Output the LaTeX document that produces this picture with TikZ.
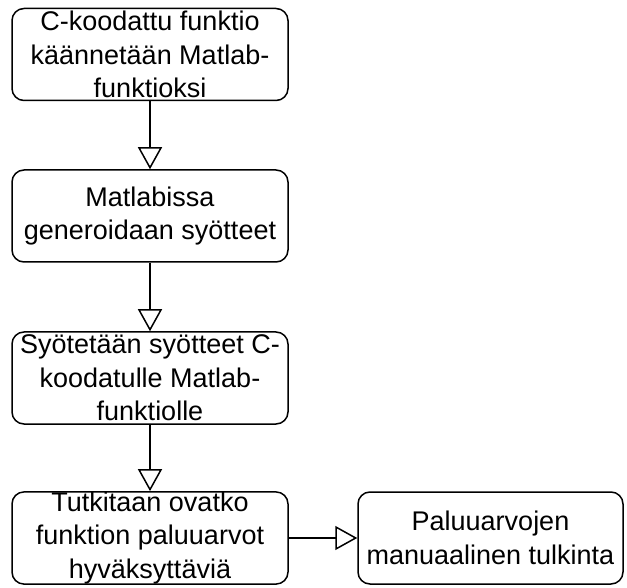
\documentclass[tikz,border=0pt]{standalone}
\usepackage{fontspec}
\setmainfont{Liberation Sans}
\usetikzlibrary{arrows.meta}
\begin{document}
\begin{tikzpicture}[x=1pt,y=-1pt,
  box/.style={draw, line width=1.5pt, rounded corners=12pt, minimum width=276pt, minimum height=92pt, inner sep=0pt, align=center, font=\fontsize{27}{33.5}\selectfont},
  flow/.style={line width=1.5pt, -{Triangle[open, length=22pt, width=24pt, line width=1.5pt]}}]
\useasboundingbox (0,0) rectangle (627,588);
\node[box] (a) at (150,54.5) {C-koodattu funktio\\käännetään Matlab-\\funktioksi};
\node[box] (b) at (150,216) {Matlabissa\\generoidaan syötteet};
\node[box] (c) at (150,378) {Syötetään syötteet C-\\koodatulle Matlab-\\funktiolle};
\node[box] (d) at (150,538) {Tutkitaan ovatko\\funktion paluuarvot\\hyväksyttäviä};
\node[box, minimum width=265pt] (e) at (490.5,538) {Paluuarvojen\\manuaalinen tulkinta};
\draw[flow] (a) -- (b);
\draw[flow] (b) -- (c);
\draw[flow] (c) -- (d);
\draw[flow] (d) -- (e);
\end{tikzpicture}
\end{document}
